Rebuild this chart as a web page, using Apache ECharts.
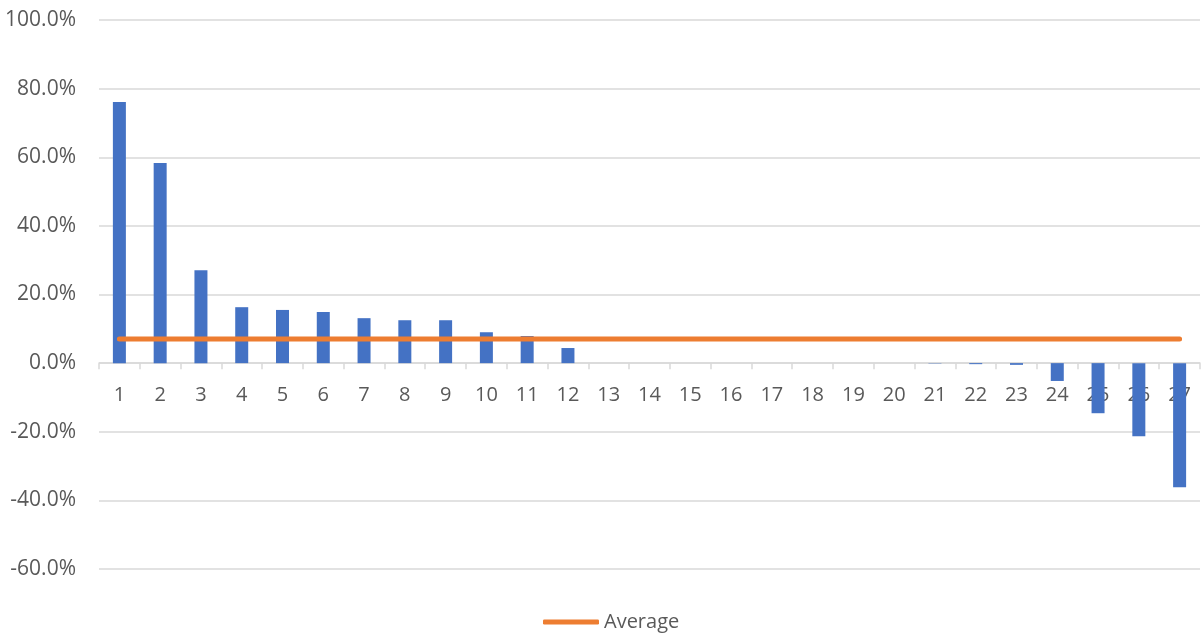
<!DOCTYPE html>
<html>
<head>
<meta charset="utf-8">
<script src="https://cdn.jsdelivr.net/npm/echarts@6/dist/echarts.min.js"></script>
<style>
  html, body { margin: 0; padding: 0; background: #ffffff; }
  #chart { width: 1202px; height: 635px; }
</style>
</head>
<body>
<div id="chart"></div>
<script>
// Category labels along the x axis
const categories = ['1','2','3','4','5','6','7','8','9','10','11','12','13','14','15','16','17','18','19','20','21','22','23','24','25','26','27'];

// Percentage change per item (in %)
const changeValues = [76.1, 58.3, 27.1, 16.3, 15.5, 14.9, 13.1, 12.5, 12.5, 9.0, 7.9, 4.4,
  0, 0, 0, 0, 0, 0, 0, 0, -0.1, -0.3, -0.5, -5.2, -14.6, -21.3, -36.2];

// Average across all items (in %)
const averageValues = [7.0, 7.0, 7.0, 7.0, 7.0, 7.0, 7.0, 7.0, 7.0, 7.0, 7.0, 7.0, 7.0, 7.0,
  7.0, 7.0, 7.0, 7.0, 7.0, 7.0, 7.0, 7.0, 7.0, 7.0, 7.0, 7.0, 7.0];

// Value axis range
const yMin = -60;
const yMax = 100;
const yStep = 20;

const chart = echarts.init(document.getElementById('chart'), null, { renderer: 'canvas' });

const fontFamily = 'Open Sans, "Noto Sans", sans-serif';
const labelColor = '#595959';
const gridColor = '#d9d9d9';

chart.setOption({
  animation: false,
  backgroundColor: '#ffffff',
  textStyle: { fontFamily: fontFamily },
  grid: { left: 99, right: 2, top: 20, bottom: 66, containLabel: false },
  legend: {
    data: ['Average'],
    bottom: -2,
    left: 538,
    icon: 'roundRect',
    itemWidth: 56,
    itemHeight: 5,
    itemGap: 10,
    textStyle: { fontSize: 20, color: labelColor, fontFamily: fontFamily }
  },
  xAxis: {
    type: 'category',
    data: categories,
    boundaryGap: true,
    axisLine: { onZero: true, lineStyle: { color: gridColor, width: 1.5 } },
    axisTick: { show: true, alignWithLabel: false, length: 6, lineStyle: { color: gridColor, width: 1.5 } },
    // category labels sit just under the zero line
    axisLabel: { margin: -184, fontSize: 20, color: labelColor, fontFamily: fontFamily, interval: 0 },
    splitLine: { show: false }
  },
  yAxis: {
    type: 'value',
    min: yMin,
    max: yMax,
    interval: yStep,
    axisLine: { show: false },
    axisTick: { show: false },
    axisLabel: {
      margin: 23,
      fontSize: 21,
      color: labelColor,
      fontFamily: fontFamily,
      formatter: v => v.toFixed(1) + '%'
    },
    splitLine: { show: true, lineStyle: { color: gridColor, width: 1.5 } }
  },
  series: [
    {
      name: 'Change',
      type: 'bar',
      data: changeValues,
      barWidth: 13,
      itemStyle: { color: '#4472C4' },
      z: 2
    },
    {
      name: 'Average',
      type: 'line',
      data: averageValues,
      symbol: 'none',
      lineStyle: { color: '#ED7D31', width: 5, cap: 'round' },
      itemStyle: { color: '#ED7D31' },
      z: 3
    }
  ]
});
</script>
</body>
</html>
